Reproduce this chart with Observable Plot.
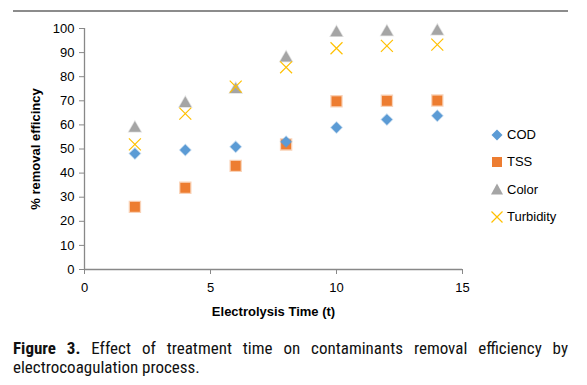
<!DOCTYPE html>
<html><head><meta charset="utf-8">
<script src="https://cdn.jsdelivr.net/npm/d3@7"></script>
<script src="https://cdn.jsdelivr.net/npm/@observablehq/plot@0.6"></script>
<style>
body{margin:0;background:#fff;width:587px;height:385px;position:relative;overflow:hidden;font-family:"Liberation Sans",Arial,sans-serif;}
#rule{position:absolute;left:13px;top:10px;width:555px;border-top:2px solid #8c8c8c;}
#chart{position:absolute;left:0;top:0;}
#legend{position:absolute;left:490px;top:121px;font-size:13px;color:#000;}
#legend div{height:27.3px;display:flex;align-items:center;}
#legend svg{margin-right:3px;}
#caption{position:absolute;left:13px;top:339px;width:555px;font-family:Roboto,"Liberation Sans",sans-serif;font-stretch:condensed;font-size:17px;line-height:19px;color:#111;}
#caption .l1{text-align:justify;text-align-last:justify;white-space:nowrap;}
</style></head>
<body>
<div id="rule"></div>
<div id="chart"></div>
<div id="legend"></div>
<div id="caption"><div class="l1"><span style="font-weight:bold">Figure 3.</span> Effect of treatment time on contaminants removal efficiency by</div><div>electrocoagulation process.</div></div>
<script>
const time = [2, 4, 6, 8, 10, 12, 14];
const cod = [48.1, 49.6, 50.9, 53, 58.9, 62.2, 63.8];
const tss = [26, 33.9, 43, 51.9, 69.8, 70, 70.1];
const color = [58.6, 68.9, 74.7, 87.8, 98.2, 98.5, 98.9];
const turbidity = [51.9, 64.7, 75.9, 83.9, 91.8, 92.8, 93.3];
const seriesNames = ["COD", "TSS", "Color", "Turbidity"];
const seriesColors = ["#5B9BD5", "#ED7D31", "#A5A5A5", "#FFC000"];
const xTicks = [0, 5, 10, 15];
const yTicks = [0, 10, 20, 30, 40, 50, 60, 70, 80, 90, 100];

const rows = (vals) => time.map((t, i) => ({t, v: vals[i]}));

const chart = Plot.plot({
  width: 587, height: 320,
  marginLeft: 84, marginRight: 125, marginTop: 28, marginBottom: 51,
  style: {fontFamily: "'Liberation Sans', Arial, sans-serif", fontSize: "13px", color: "#000", background: "transparent"},
  x: {domain: [0, 15], ticks: xTicks, label: null},
  y: {domain: [0, 100], ticks: yTicks, label: null},
  marks: [
    Plot.axisX({ticks: xTicks, tickSize: 5, tickPadding: 8, stroke: "#888", fill: "#000", fontSize: 13}),
    Plot.axisY({ticks: yTicks, tickSize: 5, tickPadding: 5, stroke: "#888", fill: "#000", fontSize: 13}),
    Plot.ruleX([0], {stroke: "#888", strokeWidth: 1.3}),
    Plot.ruleY([0], {stroke: "#888", strokeWidth: 1.3}),
    Plot.text(["Electrolysis Time (t)"], {frameAnchor: "bottom", dy: 46, fontWeight: "bold", fontSize: 13}),
    Plot.text(["% removal efficincy"], {frameAnchor: "left", textAnchor: "middle", dx: -49, rotate: -90, fontWeight: "bold", fontSize: 13}),
    Plot.dot(rows(tss), {x: "t", y: "v", symbol: "square", r: 5.6, fill: seriesColors[1], stroke: seriesColors[1], strokeOpacity: 0.35, strokeWidth: 2.5}),
    Plot.dot(rows(cod), {x: "t", y: "v", symbol: "diamond2", r: 4.9, fill: seriesColors[0], stroke: seriesColors[0], strokeOpacity: 0.35, strokeWidth: 1.5}),
    Plot.dot(rows(color), {x: "t", y: "v", symbol: "triangle", r: 4.5, fill: seriesColors[2], stroke: seriesColors[2], strokeOpacity: 0.35, strokeWidth: 1.5}),
    Plot.dot(rows(turbidity), {x: "t", y: "v", symbol: "times", r: 5.5, stroke: seriesColors[3], strokeWidth: 1.2})
  ]
});
document.getElementById("chart").appendChild(chart);

const shapes = [
  c => `<path d="M7,1.5 L12.5,7 L7,12.5 L1.5,7 Z" fill="${c}"/>`,
  c => `<rect x="2" y="2" width="10" height="10" fill="${c}"/>`,
  c => `<path d="M7,1.5 L13,12.5 L1,12.5 Z" fill="${c}"/>`,
  c => `<path d="M1.5,1.5 L12.5,12.5 M12.5,1.5 L1.5,12.5" stroke="${c}" stroke-width="1.2" fill="none"/>`
];
const legend = document.getElementById("legend");
seriesNames.forEach((n, i) => {
  const d = document.createElement("div");
  d.innerHTML = `<svg width="14" height="14">${shapes[i](seriesColors[i])}</svg><span>${n}</span>`;
  legend.appendChild(d);
});
</script>
</body></html>
